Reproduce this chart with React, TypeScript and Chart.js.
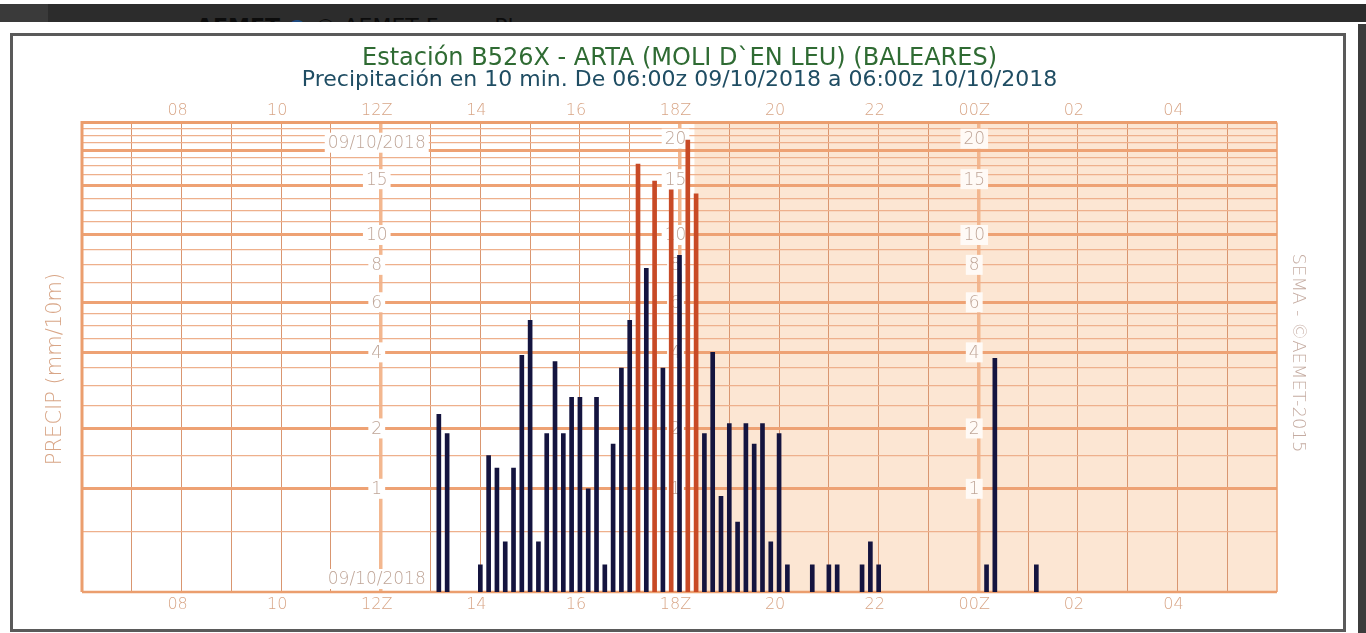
import React, { useEffect, useRef } from "react";
import { Chart, registerables } from "chart.js";

Chart.register(...registerables);

// ---- data (10-minute precipitation, mm, interval end time UTC) ----
const barTimes = [
  "13:10", "13:20",
  "14:00", "14:10", "14:20", "14:30", "14:40", "14:50",
  "15:00", "15:10", "15:20", "15:30", "15:40", "15:50",
  "16:00", "16:10", "16:20", "16:30", "16:40", "16:50",
  "17:00", "17:10", "17:20", "17:30", "17:40", "17:50",
  "18:00", "18:10", "18:20", "18:30", "18:40", "18:50",
  "19:00", "19:10", "19:20", "19:30", "19:40", "19:50",
  "20:00", "20:10", "20:40", "21:00", "21:10", "21:40", "21:50", "22:00",
  "00:10", "00:20", "01:10",
];
const precipValues = [
  2.3, 1.9,
  0.2, 1.5, 1.3, 0.4, 1.3, 3.9,
  5.2, 0.4, 1.9, 3.7, 1.9, 2.7,
  2.7, 1.0, 2.7, 0.2, 1.7, 3.5,
  5.2, 16.7, 7.8, 14.8, 3.5, 13.9,
  8.6, 19.8, 13.5, 1.9, 4.0, 0.9,
  2.1, 0.6, 2.1, 1.7, 2.1, 0.4,
  1.9, 0.2, 0.2, 0.2, 0.2, 0.2, 0.4, 0.2,
  0.2, 3.8, 0.2,
];
const redThreshold = 10;

// x axis: hours since 00z 09/10/2018
const xMin = 6;
const xMax = 30;
const gridHours = [7, 8, 9, 10, 11, 12, 13, 14, 15, 16, 17, 18, 19, 20, 21, 22, 23, 24, 25, 26, 27, 28, 29];
const labelHours = [8, 10, 12, 14, 16, 18, 20, 22, 24, 26, 28];
const labelTexts = ["08", "10", "12Z", "14", "16", "18Z", "20", "22", "00Z", "02", "04"];
const synopticHours = [12, 18, 24];
const nightStartHour = 18.3;

// y axis: log(1 + mm)
const yMaxValue = 22.4;
const yMajorGrid = [1, 2, 4, 6, 10, 14.3, 18.4];
const yMinorGrid = [0.5, 1.5, 2.5, 3, 3.5, 4.5, 5, 5.5, 7, 8, 9, 11, 12, 13, 15.5, 16.5, 17.5, 19.5, 20.5, 21.5];
const yLabelValues = [20, 15, 10, 8, 6, 4, 2, 1];
const dateLabel = "09/10/2018";

const titleText = "Estación B526X - ARTA (MOLI D`EN LEU) (BALEARES)";
const subtitleText = "Precipitación en 10 min. De 06:00z 09/10/2018 a 06:00z 10/10/2018";
const yAxisTitle = "PRECIP (mm/10m)";
const creditText = "SEMA - ©AEMET-2015";

const FONT = "'DejaVu Sans', 'Noto Sans', sans-serif";
const NAVY = "#14143f";
const RED = "#c84a26";
const TAN = "#d8a586";
const LABEL_GREY = "#bfa597";

function timeToHour(t: string): number {
  const [h, m] = t.split(":").map(Number);
  let v = h + m / 60;
  if (v < xMin) v += 24;
  return v;
}
const tr = (v: number) => Math.log1p(v);

const decorPlugin = {
  id: "decor",
  beforeDraw(chart: any) {
    const { ctx, chartArea: a, scales } = chart;
    const xs = scales.x;
    const xn = xs.getPixelForValue(nightStartHour);
    ctx.save();
    ctx.fillStyle = "#fce6d3";
    ctx.fillRect(xn, a.top, a.right - xn, a.bottom - a.top);
    ctx.restore();
  },
  beforeDatasetsDraw(chart: any) {
    const { ctx, chartArea: a, scales } = chart;
    const xs = scales.x;
    const ys = scales.y;
    ctx.save();
    // frame
    ctx.strokeStyle = "#eb9e6e";
    ctx.lineWidth = 3;
    ctx.beginPath();
    ctx.moveTo(a.left, a.bottom);
    ctx.lineTo(a.left, a.top);
    ctx.lineTo(a.right, a.top);
    ctx.stroke();
    ctx.lineWidth = 1.5;
    ctx.beginPath();
    ctx.moveTo(a.right, a.top);
    ctx.lineTo(a.right, a.bottom);
    ctx.stroke();
    ctx.lineWidth = 2.5;
    ctx.beginPath();
    ctx.moveTo(a.left, a.bottom);
    ctx.lineTo(a.right, a.bottom);
    ctx.stroke();

    // column labels at 12Z, 18Z, 00Z
    ctx.font = `200 17px ${FONT}`;
    ctx.textAlign = "center";
    ctx.textBaseline = "middle";
    synopticHours.forEach((h, ci) => {
      const x = xs.getPixelForValue(h) - 4;
      const items: { text: string; y: number }[] = [];
      yLabelValues.forEach((v, i) => {
        const text = ci === 0 && i === 0 ? dateLabel : String(v);
        items.push({ text, y: ys.getPixelForValue(tr(v)) + (ci === 0 && i === 0 ? 4 : 0) });
      });
      if (ci === 0) items.push({ text: dateLabel, y: a.bottom - 13 });
      items.forEach((it) => {
        const w = ctx.measureText(it.text).width + 6;
        ctx.fillStyle = h >= nightStartHour ? "#fffaf6" : "#ffffff";
        ctx.fillRect(x - w / 2, it.y - 10, w, 20);
        ctx.fillStyle = LABEL_GREY;
        ctx.fillText(it.text, x, it.y + 1);
      });
    });
    ctx.restore();
  },
  afterDraw(chart: any) {
    const { ctx } = chart;
    ctx.save();
    ctx.textAlign = "center";
    ctx.textBaseline = "middle";
    ctx.fillStyle = TAN;
    ctx.font = `200 21px ${FONT}`;
    ctx.translate(56, 369);
    ctx.rotate(-Math.PI / 2);
    ctx.fillText(yAxisTitle, 0, 0);
    ctx.restore();

    ctx.save();
    ctx.textAlign = "center";
    ctx.textBaseline = "middle";
    ctx.fillStyle = "#c5aca2";
    ctx.font = `200 18px ${FONT}`;
    ctx.translate(1298, 353);
    ctx.rotate(Math.PI / 2);
    ctx.fillText(creditText, 0, 0);
    ctx.restore();
  },
};

export default function App() {
  const canvasRef = useRef<HTMLCanvasElement | null>(null);

  useEffect(() => {
    document.body.style.margin = "0";
    const canvas = canvasRef.current;
    if (!canvas) return;

    const points = barTimes.map((t, i) => ({ x: timeToHour(t), y: tr(precipValues[i]) }));
    const colors = precipValues.map((v) => (v >= redThreshold ? RED : NAVY));
    const labelFor = (v: number) => {
      const idx = labelHours.indexOf(Math.round(v));
      return idx >= 0 && Math.abs(v - labelHours[idx]) < 1e-6 ? labelTexts[idx] : "";
    };
    const tickFont = { family: FONT, size: 16, weight: 200 as any };

    const chart = new Chart(canvas, {
      type: "bar",
      data: {
        datasets: [
          {
            data: points as any,
            backgroundColor: colors,
            barThickness: 4,
            grouped: false,
            xAxisID: "x",
            yAxisID: "y",
          },
        ],
      },
      plugins: [decorPlugin],
      options: {
        responsive: false,
        animation: false,
        devicePixelRatio: 1,
        layout: { padding: { left: 82, right: 89, top: 47, bottom: 11 } },
        plugins: {
          legend: { display: false },
          tooltip: { enabled: false },
          title: {
            display: true,
            text: titleText,
            color: "#2f6b33",
            font: { family: FONT, size: 24, weight: "normal", lineHeight: 1 },
            padding: { top: 0, bottom: 0 },
          },
          subtitle: {
            display: true,
            text: subtitleText,
            color: "#1f4d63",
            font: { family: FONT, size: 22, weight: "normal", lineHeight: 0.8 },
            padding: { top: 0, bottom: 0 },
          },
        },
        scales: {
          x: {
            type: "linear",
            position: "bottom",
            offset: false,
            min: xMin,
            max: xMax,
            afterBuildTicks: (s: any) => {
              s.ticks = gridHours.map((h) => ({ value: h }));
            },
            afterFit: (s: any) => {
              s.height = 30;
            },
            ticks: {
              autoSkip: false,
              maxRotation: 0,
              padding: 3,
              labelOffset: -4,
              color: TAN,
              font: tickFont,
              callback: (v: any) => labelFor(Number(v)),
            },
            grid: {
              offset: false,
              drawTicks: false,
              color: (c: any) => (synopticHours.includes(c.tick?.value) ? "#f3b78f" : "#d99670"),
              lineWidth: (c: any) => (synopticHours.includes(c.tick?.value) ? 3.5 : 1),
            },
            border: { display: false },
          },
          x2: {
            type: "linear",
            position: "top",
            offset: false,
            min: xMin,
            max: xMax,
            afterBuildTicks: (s: any) => {
              s.ticks = gridHours.map((h) => ({ value: h }));
            },
            afterFit: (s: any) => {
              s.height = 34;
            },
            ticks: {
              autoSkip: false,
              maxRotation: 0,
              padding: 2,
              labelOffset: -4,
              color: TAN,
              font: tickFont,
              callback: (v: any) => labelFor(Number(v)),
            },
            grid: { display: false, drawTicks: false, offset: false },
            border: { display: false },
          },
          y: {
            type: "linear",
            position: "left",
            min: 0,
            max: tr(yMaxValue),
            afterBuildTicks: (s: any) => {
              const all = [...yMinorGrid, ...yMajorGrid].sort((p, q) => p - q);
              s.ticks = all.map((v) => ({ value: tr(v), major: yMajorGrid.includes(v) }));
            },
            afterFit: (s: any) => {
              s.width = 0;
            },
            ticks: { display: false },
            grid: {
              drawTicks: false,
              color: (c: any) => (c.tick?.major ? "#eea274" : "#eeb08c"),
              lineWidth: (c: any) => (c.tick?.major ? 3 : 1.2),
            },
            border: { display: false },
          },
        },
      },
    });
    return () => chart.destroy();
  }, []);

  return (
    <div style={{ position: "relative", width: 1366, height: 633, overflow: "hidden", background: "#ffffff" }}>
      <div style={{ position: "absolute", left: 0, top: 4, width: 1366, height: 18, background: "#2c2c2c", overflow: "hidden" }}>
        <div style={{ position: "absolute", left: 0, top: 0, width: 48, height: 18, background: "#3a3a3a" }} />
        <div style={{ position: "absolute", left: 196, top: 10, font: `bold 22px ${FONT}`, color: "#0c0c0c", whiteSpace: "nowrap" }}>
          AEMET <span style={{ color: "#1d4a80" }}>●</span> <span style={{ fontWeight: "normal" }}>© AEMET Fuera Pl</span>
        </div>
      </div>
      <div style={{ position: "absolute", left: 1358, top: 24, width: 8, height: 609, background: "#3c3c3c" }} />
      <div style={{ position: "absolute", left: 10, top: 33, width: 1336, height: 599, boxSizing: "border-box", border: "3px solid #5a5a5a", background: "#ffffff" }} />
      <canvas ref={canvasRef} width={1366} height={633} style={{ position: "absolute", left: 0, top: 0, width: 1366, height: 633 }} />
    </div>
  );
}
